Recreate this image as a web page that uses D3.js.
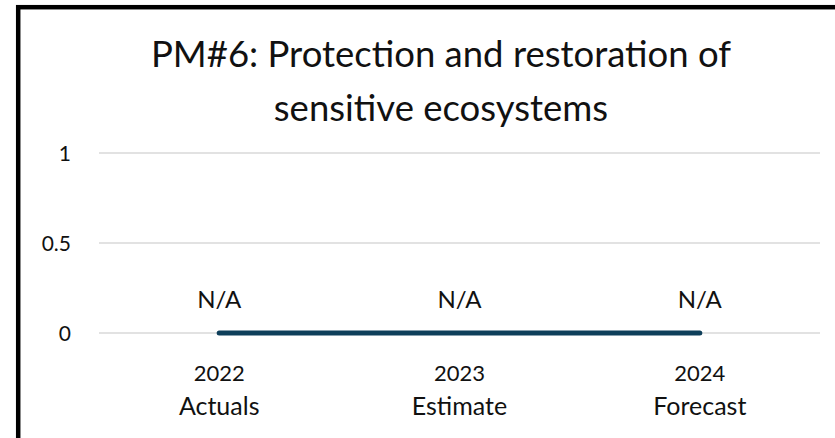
<!DOCTYPE html>
<head>
  <meta charset="utf-8">
  <title>PM#6</title>
</head>
<style>
  body { margin: 0; background: #fff; overflow: hidden; }
  svg text { font-family: Lato, "Open Sans", sans-serif; fill: #111; }
  .grid line { stroke: #d9d9d9; stroke-width: 1.5px; }
</style>
<body>
<svg id="chart" width="835" height="438"></svg>
<script src="https://cdn.jsdelivr.net/npm/d3@7"></script>
<script>
  // data
  var years = ["2022", "2023", "2024"];
  var stages = ["Actuals", "Estimate", "Forecast"];
  var values = [0, 0, 0];
  var valueLabels = ["N/A", "N/A", "N/A"];
  var yTicks = [0, 0.5, 1];
  var titleLines = ["PM#6: Protection and restoration of", "sensitive ecosystems"];

  var svg = d3.select("#chart");

  // frame, cut off on the right and bottom like the screenshot
  svg.append("rect")
    .attr("x", 18.2).attr("y", 7.2)
    .attr("width", 1000).attr("height", 1000)
    .attr("fill", "none")
    .attr("stroke", "#000")
    .attr("stroke-width", 4.5);

  var x = d3.scaleBand().domain(years).range([99, 820]);
  var y = d3.scaleLinear().domain([0, 1]).range([333, 153]);

  // title
  svg.append("text")
    .attr("x", 441).attr("y", 67)
    .attr("text-anchor", "middle")
    .attr("font-size", 36.5)
    .selectAll("tspan")
    .data(titleLines)
    .enter().append("tspan")
      .attr("x", 441)
      .attr("dy", (d, i) => i ? 54 : 0)
      .text(d => d);

  // gridlines
  svg.append("g")
    .attr("class", "grid")
    .selectAll("line")
    .data(yTicks)
    .enter().append("line")
      .attr("x1", 99).attr("x2", 820)
      .attr("y1", d => y(d)).attr("y2", d => y(d));

  // y labels
  svg.append("g")
    .selectAll("text")
    .data(yTicks)
    .enter().append("text")
      .attr("x", 71)
      .attr("y", d => y(d))
      .attr("dy", "0.38em")
      .attr("text-anchor", "end")
      .attr("font-size", 21)
      .text(d => d3.format("")(d));

  // the series line
  var line = d3.line()
    .x((d, i) => x(years[i]) + x.bandwidth() / 2)
    .y(d => y(d));

  svg.append("path")
    .datum(values)
    .attr("d", line)
    .attr("fill", "none")
    .attr("stroke", "#0e3f5a")
    .attr("stroke-width", 5)
    .attr("stroke-linecap", "round");

  // data labels
  svg.append("g")
    .selectAll("text")
    .data(values)
    .enter().append("text")
      .attr("x", (d, i) => x(years[i]) + x.bandwidth() / 2)
      .attr("y", d => y(d) - 25)
      .attr("text-anchor", "middle")
      .attr("font-size", 24)
      .text((d, i) => valueLabels[i]);

  // category labels
  var cat = svg.append("g")
    .selectAll("text")
    .data(years)
    .enter().append("text")
      .attr("text-anchor", "middle")
      .attr("font-size", 22);
  cat.append("tspan")
    .attr("x", d => x(d) + x.bandwidth() / 2)
    .attr("y", 381)
    .text(d => d);
  cat.append("tspan")
    .attr("x", d => x(d) + x.bandwidth() / 2)
    .attr("y", 415)
    .attr("font-size", 25)
    .text((d, i) => stages[i]);
</script>
</body>
